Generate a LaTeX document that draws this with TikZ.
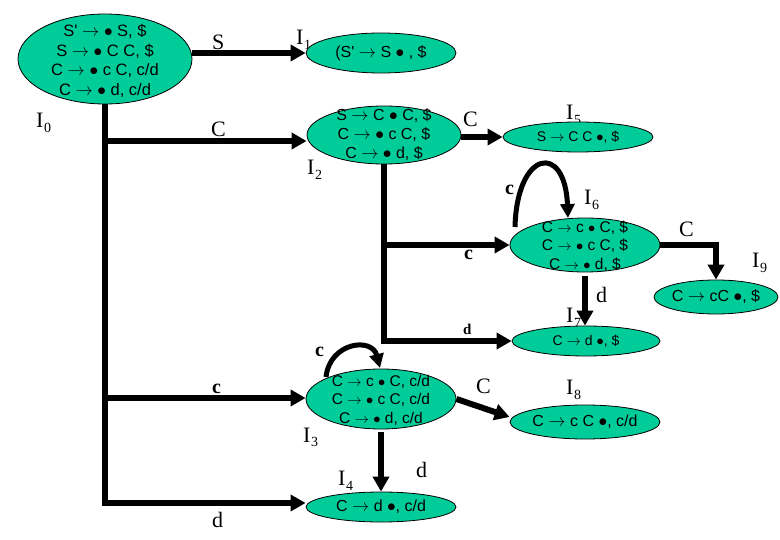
\documentclass[tikz,border=0pt]{standalone}
\usepackage{fontspec}
\setmainfont{Liberation Serif}
\newfontfamily\arialf{Liberation Sans}
\usetikzlibrary{arrows.meta,calc,shapes.geometric}
\definecolor{stfill}{RGB}{0,204,153}
\newcommand\Isub[1]{I\kern0.5pt\raisebox{-5pt}{\fontsize{14pt}{14pt}\selectfont #1}}
\newcommand\mydot{\ensuremath{\bullet}}
\newcommand\myar{\ensuremath{\rightarrow}}
\newcommand\pr{\textquotesingle}
\begin{document}
\begin{tikzpicture}[x=1pt,y=-1pt,
 lrstate/.style={ellipse, draw=black, line width=0.8pt, fill=stfill, inner sep=0pt},
 sttext/.style={font=\arialf\fontsize{16pt}{18pt}\selectfont, align=center, inner sep=0pt},
 midtext/.style={font=\arialf\fontsize{15.5pt}{18.5pt}\selectfont, align=center, inner sep=0pt},
 smtext/.style={font=\arialf\fontsize{14pt}{18pt}\selectfont, align=center, inner sep=0pt},
 lbl/.style={font=\fontsize{22pt}{22pt}\selectfont, anchor=base west, inner sep=0pt},
 blbl/.style={font=\bfseries\fontsize{20pt}{20pt}\selectfont, anchor=base west, inner sep=0pt},
 arr/.style={line width=6pt, -{Triangle[length=15pt,width=16pt]}},
 selfarr/.style={line width=5pt, -{Triangle[length=14pt,width=14pt]}},
]
\useasboundingbox (0,0) rectangle (780,540);

% state names
\node[lbl] (n0) at (36,128) {\Isub{0}};
\node[lbl] (n1) at (296,45) {\Isub{1}};
\node[lbl] (n2) at (307,175) {\Isub{2}};
\node[lbl] (n5) at (566,120) {\Isub{5}};
\node[lbl] (n6) at (584,205) {\Isub{6}};
\node[lbl] (n9) at (752,268) {\Isub{9}};
\node[lbl] (n7) at (566,323) {\Isub{7}};
\node[lbl] (n8) at (566,395) {\Isub{8}};
\node[lbl] (n3) at (303,442) {\Isub{3}};
\node[lbl] (n4) at (338,485) {\Isub{4}};

% states
\node[lrstate, minimum width=174pt, minimum height=90pt] (I0) at (105,59) {};
\node[lrstate, minimum width=150pt, minimum height=40pt] (I1) at (381,53) {};
\node[lrstate, minimum width=154pt, minimum height=58pt] (I2) at (384,135) {};
\node[lrstate, minimum width=150pt, minimum height=30pt] (I5) at (578,137) {};
\node[lrstate, minimum width=150pt, minimum height=54pt] (I6) at (585,245) {};
\node[lrstate, minimum width=124pt, minimum height=34pt] (I9) at (716,297) {};
\node[lrstate, minimum width=148pt, minimum height=30pt] (I7) at (586,341) {};
\node[lrstate, minimum width=150pt, minimum height=60pt] (I3) at (381,399) {};
\node[lrstate, minimum width=150pt, minimum height=34pt] (I8) at (585,422) {};
\node[lrstate, minimum width=150pt, minimum height=30pt] (I4) at (381,507) {};

% state contents
\node[sttext, font=\arialf\fontsize{16.5pt}{19.5pt}\selectfont] (t0) at ($(I0.center)+(0,2)$)
  {S\pr{} \myar{} \mydot{} S, \$\\ S \myar{} \mydot{} C C, \$\\ C \myar{} \mydot{} c C, c/d\\ C \myar{} \mydot{} d, c/d};
\node[sttext] (t1) at (I1.center) {(S\pr{} \myar{} S \mydot{} , \$};
\node[sttext, font=\arialf\fontsize{16pt}{19pt}\selectfont] (t2) at (I2.center)
  {S \myar{} C \mydot{} C, \$\\ C \myar{} \mydot{} c C, \$\\ C \myar{} \mydot{} d, \$};
\node[smtext] (t5) at (I5.center) {S \myar{} C C \mydot, \$};
\node[midtext] (t6) at ($(I6.center)+(0,1)$)
  {C \myar{} c \mydot{} C, \$\\ C \myar{} \mydot{} c C, \$\\ C \myar{} \mydot{} d, \$};
\node[sttext] (t9) at (I9.center) {C \myar{} cC \mydot, \$};
\node[smtext] (t7) at (I7.center) {C \myar{} d \mydot, \$};
\node[midtext] (t3) at ($(I3.center)+(0,1)$)
  {C \myar{} c \mydot{} C, c/d\\ C \myar{} \mydot{} c C, c/d\\ C \myar{} \mydot{} d, c/d};
\node[sttext] (t8) at (I8.center) {C \myar{} c C \mydot, c/d};
\node[sttext] (t4) at (I4.center) {C \myar{} d \mydot, c/d};

% connectors
\coordinate (bC) at (105,141);
\coordinate (bc) at (105,398);
\coordinate (bd) at (105,503);
\coordinate (k6) at (I2.south |- I6.west);
\coordinate (k7) at (I2.south |- I7.west);

\draw[arr] (I0.east |- I1.west) -- (I1.west);
\draw[arr] (I0.south) -- (bd) -- (bd -| I4.west);
\draw[arr] (bC) -- (bC -| I2.west);
\draw[arr] (bc) -- (bc -| I3.west);
\draw[arr] (I2.east |- I5.west) -- (I5.west);
\draw[arr] (I2.south) -- (k7) -- (I7.west);
\draw[arr] (k6) -- (I6.west);
\draw[arr] (I6.east) -- (I6.east -| I9.north) -- (I9.north);
\draw[arr, shorten <=4pt] (I6.south) -- (I6.south |- I7.north);
\draw[arr] (I3.east) -- ($(I8.west)+(0,-5)$);
\draw[arr, shorten <=3pt] (I3.south) -- (I4.north);
\draw[selfarr] ($(I6.center)+(-70,-18)$) .. controls ($(I6.center)+(-68,-95)$) and ($(I6.center)+(-20,-103)$) .. ($(I6.center)+(-17,-27)$);
\draw[selfarr] ($(I3.center)+(-55,-22)$) .. controls ($(I3.center)+(-51,-57)$) and ($(I3.center)+(-9,-62)$) .. ($(I3.center)+(-1,-31)$);

% edge labels
\node[lbl] (eS) at (212,50) {S};
\node[lbl] (eC1) at (211,137) {C};
\node[lbl] (eC2) at (463,127) {C};
\node[blbl] (ec6) at (505,195) {c};
\node[blbl] (ec26) at (464,260) {c};
\node[lbl] (eC69) at (679,237) {C};
\node[lbl] (ed67) at (596,303) {d};
\node[blbl, font=\bfseries\fontsize{15pt}{15pt}\selectfont] (ed27) at (463,335) {d};
\node[blbl] (ec3) at (315,357) {c};
\node[blbl] (ec03) at (212,393) {c};
\node[lbl] (eC38) at (476,393) {C};
\node[lbl] (ed34) at (416,477) {d};
\node[lbl] (ed04) at (212,527) {d};
\end{tikzpicture}
\end{document}
